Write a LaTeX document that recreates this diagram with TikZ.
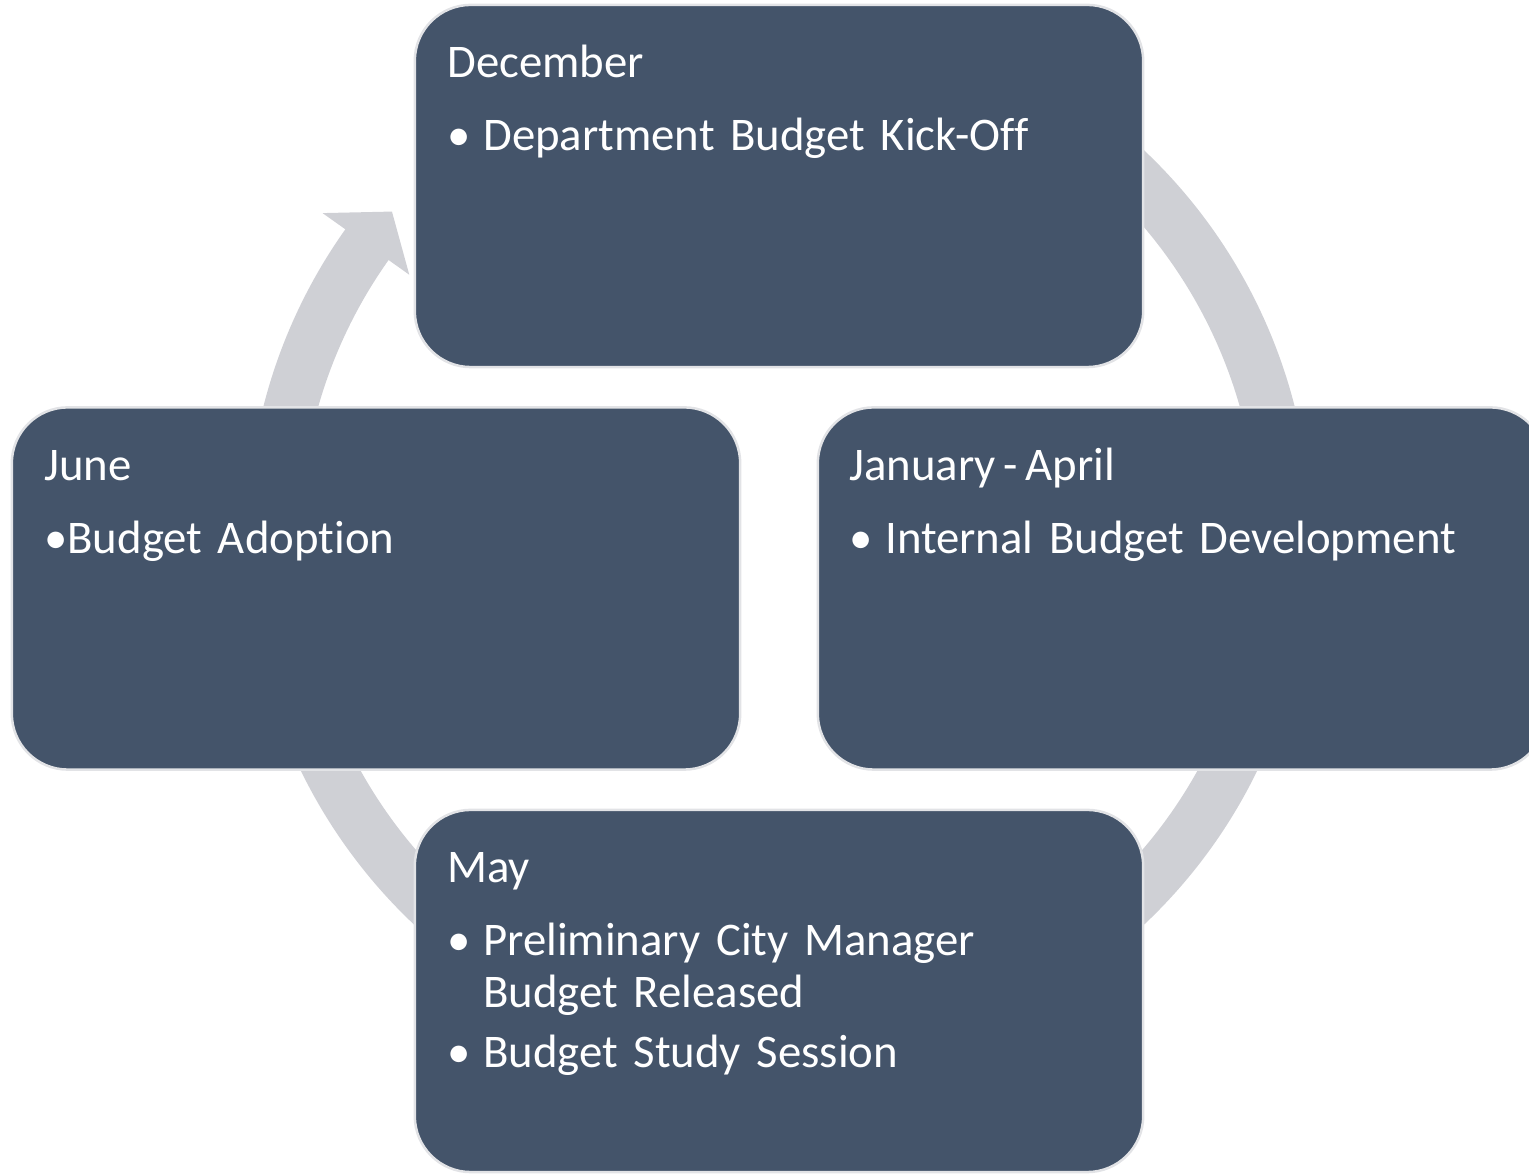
\documentclass[tikz,border=0pt]{standalone}
\usepackage{fontspec}
\setmainfont{Carlito}[Ligatures=NoCommon]
\usepackage{xcolor}
\usetikzlibrary{positioning, calc}
\definecolor{bslate}{HTML}{44546A}
\definecolor{bring}{HTML}{CFD0D5}
\definecolor{bedge}{HTML}{E2E3E6}
\newcommand{\bul}{\makebox[0.36cm][l]{\textbullet}}

\begin{document}
\begin{tikzpicture}[
  x=0.01cm, y=-0.01cm,
  phase/.style={
    rectangle, rounded corners=0.56cm, fill=bslate, draw=bedge,
    line width=0.025cm, minimum width=7.28cm, minimum height=3.62cm
  },
  phasetxt/.style={
    anchor=base west, inner sep=0pt, text=white, align=left,
    text width=6.6cm, font=\fontsize{13.3}{14.8}\selectfont
  },
  ring/.style={line width=0.53cm, color=bring},
]
\useasboundingbox (0,0) rectangle (1529,1174);

% circular arrow behind the boxes
\coordinate (c) at (779,537.5);
\draw[ring] (c) ++(-430:505.5) arc[start angle=-430, end angle=-144.5, radius=505.5];
\fill[bring] ($(c)+(-144.6:560)$) -- ($(c)+(-139.9:506)$) -- ($(c)+(-144.6:453.6)$) -- cycle;

\foreach \nm/\cx/\cy in {dec/779/186, jan/1182/588.5, may/779/991, jun/376/588.5} {
  \node[phase] (\nm) at (\cx,\cy) {};
}

\node[phasetxt] (dect) at ($(dec.north west)+(33,74)$)
  {December\\[0.21cm]\bul Department Budget Kick-Off};
\node[phasetxt] (jant) at ($(jan.north west)+(32,74)$)
  {January\,-\,April\\[0.21cm]\bul Internal Budget Development};
\node[phasetxt] (mayt) at ($(may.north west)+(33,74)$)
  {May\\[0.21cm]\bul Preliminary City Manager\\\hspace*{0.36cm}Budget Released\\[0.08cm]\bul Budget Study Session};
\node[phasetxt] (junt) at ($(jun.north west)+(33,74)$)
  {June\\[0.21cm]\textbullet Budget Adoption};
\end{tikzpicture}
\end{document}
